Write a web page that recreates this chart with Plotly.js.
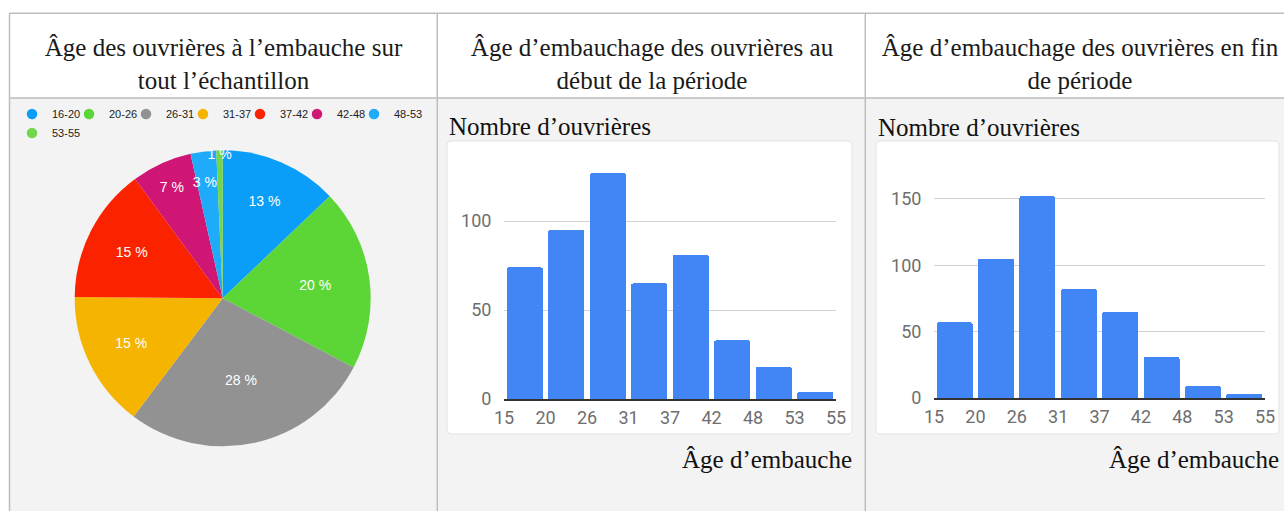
<!DOCTYPE html>
<html><head><meta charset="utf-8">
<script src="https://cdn.plot.ly/plotly-3.0.1.min.js"></script>
<style>
html,body{margin:0;padding:0;background:#fff;}
#wrap{position:relative;width:1284px;height:511px;overflow:hidden;}
.cell{position:absolute;top:0;height:511px;}
</style></head><body>
<div id="wrap">
<div id="c1" class="cell" style="left:0;width:438px"></div>
<div id="c2" class="cell" style="left:438px;width:428px"></div>
<div id="c3" class="cell" style="left:866px;width:418px"></div>
</div>
<script>
// ---------- data ----------
const ageGroups = ['16-20','20-26','26-31','31-37','37-42','42-48','48-53','53-55'];
const sharePercent = [12.9, 19.9, 27.6, 14.9, 14.8, 6.6, 2.8, 0.7];
const sliceColors = ['#0a9ef8','#5cd636','#929292','#f4b400','#fb2200','#cf1675','#1eabfa','#72d64a'];
const binEdges = ['15','20','26','31','37','42','48','53','55'];
const countsStart = [74, 95, 127, 65, 81, 33, 18, 4];
const countsEnd = [57, 105, 152, 82, 65, 31, 9, 3];
const titleAll = 'Âge des ouvrières à l’embauche sur<br>tout l’échantillon';
const titleStart = 'Âge d’embauchage des ouvrières au<br>début de la période';
const titleEnd = 'Âge d’embauchage des ouvrières en fin<br>de période';
const yLabel = 'Nombre d’ouvrières';
const xLabel = 'Âge d’embauche';

// ---------- styles ----------
const H = 511;
const SERIF = 'Liberation Serif, Times New Roman, serif';
const SANS = 'Liberation Sans, Arial, sans-serif';
const BORDER = {color:'#bdbdbd', width:1.5};
const BODY = '#f3f3f3';
const TOP_Y = 13.3, HEAD_Y = 98;
const config = {staticPlot:true, displayModeBar:false};

function conv(W, m){
  const w = W - m.l - m.r, h = H - m.t - m.b;
  return {x: px => (px - m.l)/w, y: py => (H - m.b - py)/h};
}
function line(c, x0, y0, x1, y1){
  return {type:'line', xref:'paper', yref:'paper', x0:c.x(x0), x1:c.x(x1), y0:c.y(y0), y1:c.y(y1), line:BORDER, layer:'below'};
}
function rect(c, x0, y0, x1, y1, fill){
  return {type:'rect', xref:'paper', yref:'paper', x0:c.x(x0), x1:c.x(x1), y0:c.y(y1), y1:c.y(y0), fillcolor:fill, line:{width:0}, layer:'below'};
}
function roundRect(c, x0, y0, x1, y1, r){
  const X = c.x, Y = c.y;
  const p = `M ${X(x0+r)},${Y(y0)} L ${X(x1-r)},${Y(y0)} Q ${X(x1)},${Y(y0)} ${X(x1)},${Y(y0+r)} `+
    `L ${X(x1)},${Y(y1-r)} Q ${X(x1)},${Y(y1)} ${X(x1-r)},${Y(y1)} L ${X(x0+r)},${Y(y1)} `+
    `Q ${X(x0)},${Y(y1)} ${X(x0)},${Y(y1-r)} L ${X(x0)},${Y(y0+r)} Q ${X(x0)},${Y(y0)} ${X(x0+r)},${Y(y0)} Z`;
  return {type:'path', xref:'paper', yref:'paper', path:p, fillcolor:'#ffffff', line:{color:'#e3e3e3', width:1}, layer:'below'};
}
function titleObj(text, W, cx){
  return {text:text, xref:'container', yref:'container', x:cx/W, xanchor:'center', y:1-56/H, yanchor:'middle',
          font:{family:SERIF, size:25, color:'#1a1a1a'}};
}

// ---------- panel 1 : pie ----------
(function(){
  const W = 438, m = {l:0, r:0, t:0, b:0};
  const c = conv(W, m);
  const total = sharePercent.reduce((a,b)=>a+b, 0);
  // thin (2-5 %) slices: push the label a little towards the centre with blank lines above it
  const pctText = sharePercent.map(v => {
    const f = v/total, t = Math.round(f*100) + ' %';
    return (f > 0.02 && f < 0.05) ? '\u00a0<br>\u00a0<br>' + t : t;
  });
  const cx = 222.7, cy = 298.3, rad = 148;
  const pie = {
    type:'pie', values:sharePercent, labels:ageGroups, text:pctText, textinfo:'text',
    sort:false, direction:'clockwise', rotation:0,
    marker:{colors:sliceColors, line:{width:0}},
    textposition:'inside', insidetextorientation:'horizontal',
    textfont:{family:SANS, size:14, color:'#ffffff'},
    domain:{x:[c.x(cx-rad), c.x(cx+rad)], y:[c.y(cy+rad), c.y(cy-rad)]},
    showlegend:false, hoverinfo:'label+percent'
  };
  const legendTraces = ageGroups.map((g,i)=>({
    type:'scatter', mode:'markers', x:[null], y:[null], name:g,
    marker:{color:sliceColors[i], size:10.5, symbol:'circle'}, showlegend:true, hoverinfo:'skip'
  }));
  const layout = {
    width:W, height:H, margin:m, paper_bgcolor:'#ffffff', plot_bgcolor:'rgba(0,0,0,0)',
    title:titleObj(titleAll, W, 223.5),
    xaxis:{visible:false, range:[0,1]}, yaxis:{visible:false, range:[0,1]},
    showlegend:true,
    uniformtext:{mode:'show', minsize:14},
    legend:{orientation:'h', x:c.x(24), xanchor:'left', y:c.y(99.5), yanchor:'top',
            font:{family:SANS, size:11, color:'#222'}, entrywidth:24, entrywidthmode:'pixels',
            indentation:-12,
            bgcolor:'rgba(0,0,0,0)', borderwidth:0, tracegroupgap:0},
    shapes:[
      rect(c, 10, HEAD_Y, W, H, BODY),
      line(c, 9.5, TOP_Y, W, TOP_Y),
      line(c, 9.5, HEAD_Y, W, HEAD_Y),
      line(c, 9.5, TOP_Y, 9.5, H),
      line(c, 437.3, TOP_Y, 437.3, H)
    ]
  };
  Plotly.newPlot('c1', [pie].concat(legendTraces), layout, config);
})();

// ---------- panels 2 & 3 : histograms ----------
function hist(div, W, m, counts, yMax, yTicks, title, card, rightBorder){
  const c = conv(W, m);
  const bar = {
    type:'bar', x:counts.map((_,i)=>i+0.5), y:counts, width:0.87,
    marker:{color:'#4285f4', cornerradius:2, line:{width:0}}, hoverinfo:'y', showlegend:false
  };
  const tickFont = {family:'Roboto, sans-serif', size:18, color:'#6e6e6e'};
  const shapes = [
    rect(c, 0, HEAD_Y, W, H, BODY),
    roundRect(c, card.x0, card.y0, card.x1, card.y1, 4),
    line(c, 0, TOP_Y, W, TOP_Y),
    line(c, 0, HEAD_Y, W, HEAD_Y)
  ];
  if(rightBorder !== null) shapes.push(line(c, rightBorder, TOP_Y, rightBorder, H));
  const layout = {
    width:W, height:H, margin:m, paper_bgcolor:'#ffffff', plot_bgcolor:'rgba(0,0,0,0)',
    title:titleObj(title, W, W/2 + (W===418 ? 5 : 0)),
    xaxis:{range:[0, binEdges.length-1], tickvals:binEdges.map((_,i)=>i), ticktext:binEdges,
           showgrid:false, zeroline:false, showline:true, linecolor:'#333', linewidth:1.5,
           ticks:'outside', ticklen:2, tickcolor:'rgba(0,0,0,0)', tickfont:tickFont, fixedrange:true},
    yaxis:{range:[0, yMax], tickvals:yTicks, showgrid:true, gridcolor:'#d2d2d2', gridwidth:1,
           zeroline:false, showline:false, ticks:'outside', ticklen:8, tickcolor:'rgba(0,0,0,0)',
           tickfont:tickFont, fixedrange:true},
    bargap:0,
    shapes:shapes,
    annotations:[
      {text:yLabel, xref:'paper', yref:'paper', x:c.x(card.x0), xanchor:'left', y:c.y(127), yanchor:'middle',
       showarrow:false, font:{family:SERIF, size:25, color:'#111'}},
      {text:xLabel, xref:'paper', yref:'paper', x:c.x(card.x1+2), xanchor:'right', y:c.y(459), yanchor:'middle',
       showarrow:false, font:{family:SERIF, size:25, color:'#111'}}
    ]
  };
  Plotly.newPlot(div, [bar], layout, config);
}

hist('c2', 428, {l:66, r:30, t:150, b:112}, countsStart, 140, [0,50,100], titleStart,
     {x0:9, y0:141, x1:414, y1:434}, 427.3);
hist('c3', 418, {l:68, r:19, t:159, b:113}, countsEnd, 180, [0,50,100,150], titleEnd,
     {x0:10, y0:141, x1:413, y1:434}, null);
</script>
</body></html>
